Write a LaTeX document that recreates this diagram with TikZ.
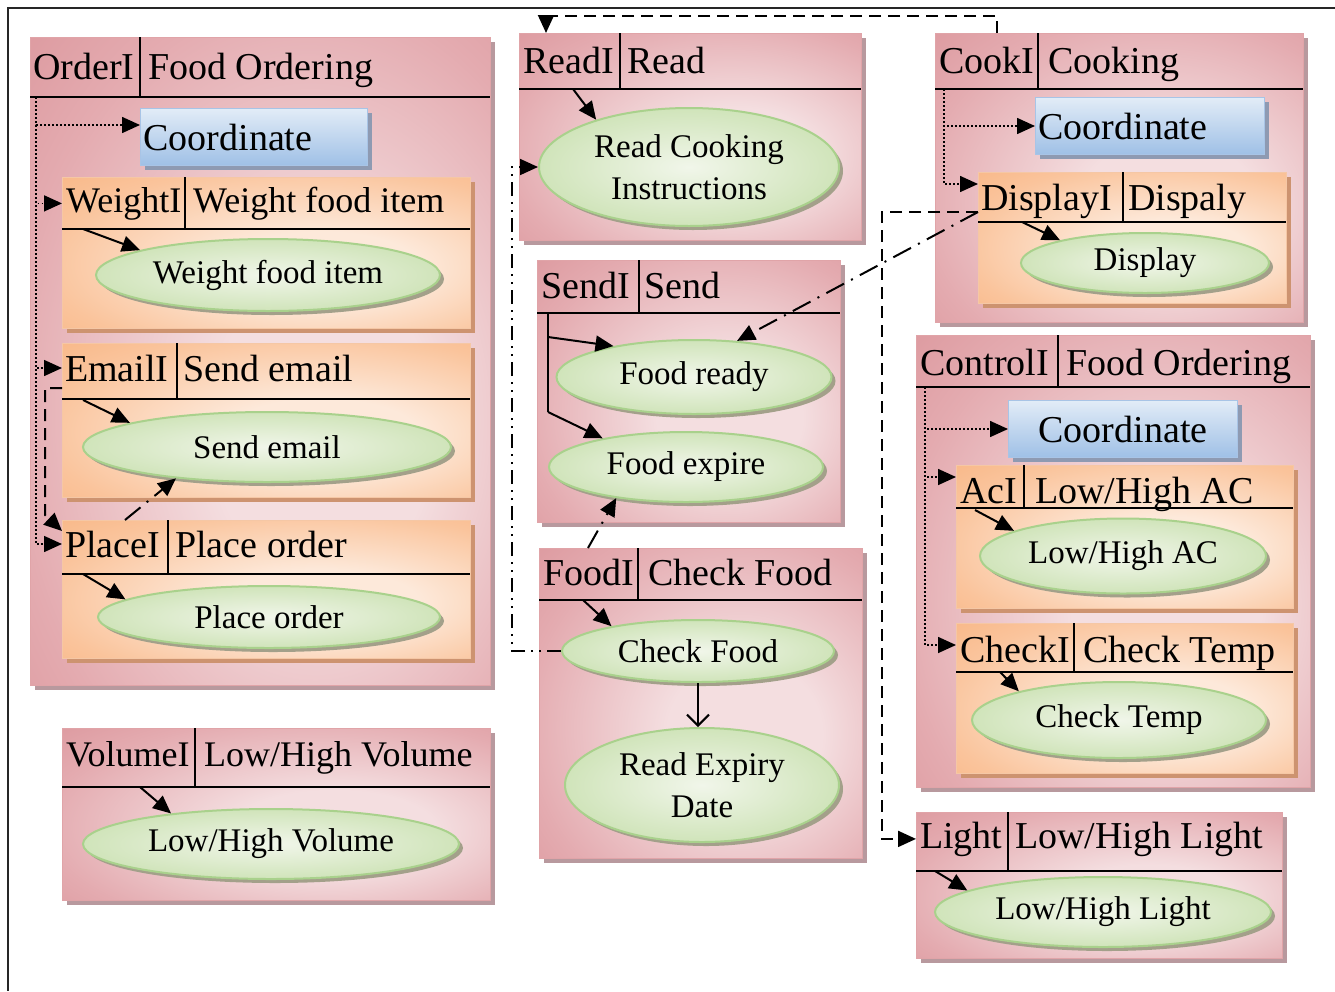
\documentclass[tikz,border=0pt]{standalone}
\usepackage{fontspec}
\setmainfont{Liberation Serif}
\usetikzlibrary{shapes.geometric,shadows,arrows.meta}

\definecolor{pinkD}{HTML}{D68A90}
\definecolor{pinkM}{HTML}{E4ABB0}
\definecolor{pinkL}{HTML}{F4DEE0}
\definecolor{pinkB}{HTML}{E0A4A8}
\definecolor{orD}{HTML}{F7AD76}
\definecolor{orM}{HTML}{FAC49C}
\definecolor{orL}{HTML}{FDE9DA}
\definecolor{orB}{HTML}{F5C7A5}
\definecolor{grD}{HTML}{D0E4BA}
\definecolor{grL}{HTML}{F1F6EA}
\definecolor{grB}{HTML}{A9D18C}
\definecolor{blT}{HTML}{E2ECF7}
\definecolor{blB}{HTML}{9FC0E6}
\definecolor{blE}{HTML}{A8C4E6}
\definecolor{shP}{HTML}{B8999E}
\definecolor{shO}{HTML}{CD9370}
\definecolor{shG}{HTML}{A3A08A}
\definecolor{shB}{HTML}{8E9AB2}

\pgfdeclareradialshading{pinkrad}{\pgfpoint{8bp}{-6bp}}{color(0bp)=(pinkL); color(12bp)=(pinkL); color(32bp)=(pinkM); color(50bp)=(pinkD); color(80bp)=(pinkD)}
\pgfdeclareradialshading{orrad}{\pgfpoint{8bp}{-6bp}}{color(0bp)=(orL); color(12bp)=(orL); color(32bp)=(orM); color(50bp)=(orD); color(80bp)=(orD)}

\tikzset{
  outerbox/.style={shading=pinkrad, draw=pinkB, line width=1pt,
    inner sep=0pt, outer sep=0pt,
    drop shadow={shadow xshift=5pt, shadow yshift=-5pt, fill=shP, opacity=1}},
  innerbox/.style={shading=orrad, draw=orB, line width=1pt,
    inner sep=0pt, outer sep=0pt,
    drop shadow={shadow xshift=5pt, shadow yshift=-5pt, fill=shO, opacity=1}},
  coordbox/.style={top color=blT, bottom color=blB, draw=blE, line width=1pt,
    anchor=north west, minimum height=57pt, inner xsep=3pt, inner ysep=0pt,
    font=\fontsize{38}{40}\selectfont,
    drop shadow={shadow xshift=4pt, shadow yshift=-4pt, fill=shB, opacity=1}},
  uc/.style={ellipse, shade, inner color=grL, outer color=grD, draw=grB, line width=2pt,
    inner sep=0pt, align=center, font=\fontsize{33}{42}\selectfont,
    drop shadow={shadow xshift=4pt, shadow yshift=-4pt, fill=shG, opacity=1}},
  hline/.style={line width=1.8pt, black},
  hd/.style={font=\fontsize{38}{40}\selectfont, inner sep=0pt, anchor=base west},
  hds/.style={font=\fontsize{36}{40}\selectfont, inner sep=0pt, anchor=base west},
  tipa/.style={-{Triangle[length=18pt,width=16pt]}},
  arr/.style={line width=2pt, tipa},
  dotarr/.style={line width=1.6pt, dash pattern=on 1.6pt off 2.4pt, tipa},
  dasharr/.style={line width=2pt, dash pattern=on 12pt off 7pt, tipa},
  dashdot/.style={line width=2pt, dash pattern=on 20pt off 8pt on 2pt off 8pt, tipa},
  dashdotdot/.style={line width=1.8pt, dash pattern=on 14pt off 6pt on 2pt off 6pt on 2pt off 6pt, tipa},
  openarr/.style={line width=2pt, -{Straight Barb[length=11pt,width=22pt,line width=2pt]}},
  frameline/.style={line width=2pt, black!85}
}

\newcommand\ibox[8]{%
  \node[#2, anchor=north west, minimum width=#5pt-#3pt, minimum height=#6pt-#4pt] (#1) at (#3,#4) {};
  \draw[hline] (#3,#7) -- (#5,#7);
  \draw[hline] (#8,#4) -- (#8,#7);
}

\begin{document}
\begin{tikzpicture}[x=1pt,y=-1pt]
\useasboundingbox (0,0) rectangle (1335,991);
\fill[white] (0,0) rectangle (1335,991);

% outer frame
\coordinate (fTL) at (8,8);
\coordinate (fTR) at (1335,8);
\coordinate (fBL) at (8,991);
\draw[frameline] (fTR) -- (fTL) -- (fBL);

% ---------------- outer containers
\ibox{order}{outerbox}{30}{37}{490}{685}{97}{140}
\ibox{volume}{outerbox}{62}{728}{490}{900}{787}{195}
\ibox{read}{outerbox}{519}{33}{861}{240}{89}{620}
\ibox{send}{outerbox}{537}{260}{840}{522}{313}{639}
\ibox{food}{outerbox}{539}{548}{862}{858}{600}{638}
\ibox{cook}{outerbox}{935}{33}{1303}{322}{89}{1038}
\ibox{ctrl}{outerbox}{916}{335}{1310}{787}{387}{1058}
\ibox{light}{outerbox}{916}{812}{1282}{958}{871}{1008}

% ---------------- inner containers
\ibox{weight}{innerbox}{62}{177}{470}{328}{229}{185}
\ibox{email}{innerbox}{62}{343}{470}{497}{399}{177}
\ibox{place}{innerbox}{62}{520}{470}{658}{574}{168}
\ibox{disp}{innerbox}{978}{172}{1286}{303}{222}{1123}
\ibox{ac}{innerbox}{956}{465}{1293}{608}{508}{1024}
\ibox{check}{innerbox}{956}{623}{1293}{773}{672}{1074}

% ---------------- header texts
\node[hd] (orderL) at (33,79) {OrderI};
\node[hd] (orderR) at (148,79) {Food Ordering};
\node[hds] (weightL) at (66,212) {WeightI};
\node[hds] (weightR) at (193,212) {Weight food item};
\node[hd] (emailL) at (65,381) {EmailI};
\node[hd] (emailR) at (183,381) {Send email};
\node[hd] (placeL) at (65,557) {PlaceI};
\node[hd] (placeR) at (175,557) {Place order};
\node[hds] (volumeL) at (66,766) {VolumeI};
\node[hds] (volumeR) at (204,766) {Low/High Volume};
\node[hd] (readL) at (523,73) {ReadI};
\node[hd] (readR) at (627,73) {Read};
\node[hd] (sendL) at (541,298) {SendI};
\node[hd] (sendR) at (644,298) {Send};
\node[hd] (foodL) at (543,585) {FoodI};
\node[hd] (foodR) at (648,585) {Check Food};
\node[hd] (cookL) at (939,73) {CookI};
\node[hd] (cookR) at (1048,73) {Cooking};
\node[hd] (dispL) at (981,210) {DisplayI};
\node[hd] (dispR) at (1128,210) {Dispaly};
\node[hd] (ctrlL) at (920,375) {ControlI};
\node[hd] (ctrlR) at (1066,375) {Food Ordering};
\node[hd] (acL) at (960,503) {AcI};
\node[hd] (acR) at (1035,503) {Low/High AC};
\node[hd] (checkL) at (960,662) {CheckI};
\node[hd] (checkR) at (1083,662) {Check Temp};
\node[hd] (lightL) at (920,848) {Light};
\node[hd] (lightR) at (1015,848) {Low/High Light};

% ---------------- coordinate boxes
\node[coordbox, minimum width=227pt, text width=221pt, align=left] (coordO) at (140,108) {Coordinate};
\node[coordbox, minimum width=229pt, text width=223pt, align=left] (coordC) at (1035,97) {Coordinate};
\node[coordbox, minimum width=229pt, text width=223pt, align=center] (coordT) at (1008,400) {Coordinate};

% ---------------- use cases
\node[uc, minimum width=344pt, minimum height=72pt] (weightE) at (268,275) {Weight food item};
\node[uc, minimum width=368pt, minimum height=70pt] (emailE) at (267,447) {Send email};
\node[uc, minimum width=342pt, minimum height=62pt] (placeE) at (269,617) {Place order};
\node[uc, minimum width=376pt, minimum height=70pt] (volumeE) at (271,844) {Low/High Volume};
\node[uc, minimum width=300pt, minimum height=118pt] (readE) at (689,167) {Read Cooking\\Instructions};
\node[uc, minimum width=275pt, minimum height=74pt] (readyE) at (694,377) {Food ready};
\node[uc, minimum width=274pt, minimum height=70pt] (expE) at (686,467) {Food expire};
\node[uc, minimum width=272pt, minimum height=62pt] (checkE) at (698,651) {Check Food};
\node[uc, minimum width=274pt, minimum height=114pt] (expiryE) at (702,785) {Read Expiry\\Date};
\node[uc, minimum width=248pt, minimum height=60pt] (dispE) at (1145,263) {Display};
\node[uc, minimum width=286pt, minimum height=75pt] (acE) at (1123,556) {Low/High AC};
\node[uc, minimum width=294pt, minimum height=76pt] (tempE) at (1119,720) {Check Temp};
\node[uc, minimum width=336pt, minimum height=70pt] (lightE) at (1103,912) {Low/High Light};

% ---------------- start points on header lines
\coordinate (wS) at (83,229);
\coordinate (eS) at (83,400);
\coordinate (pS) at (83,574);
\coordinate (vS) at (140,787);
\coordinate (rS) at (573,89);
\coordinate (fS) at (583,600);
\coordinate (dS) at (1022,222);
\coordinate (aS) at (975,510);
\coordinate (cS) at (1000,672);
\coordinate (lS) at (935,871);
\coordinate (sA) at (548,313);
\coordinate (sB) at (548,337);
\coordinate (sC) at (548,412);

% ---------------- solid arrows to use cases
\draw[arr] (wS) -- (weightE.169);
\draw[arr] (eS) -- (emailE.170);
\draw[arr] (pS) -- (placeE.173);
\draw[arr] (vS) -- (volumeE.163);
\draw[arr] (rS) -- (readE.153);
\draw[arr] (fS) -- (checkE.164);
\draw[arr] (dS) -- (dispE.165);
\draw[arr] (aS) -- (acE.167);
\draw[arr] (cS) -- (tempE.164);
\draw[arr] (lS) -- (lightE.171);
\draw[line width=2pt] (sA) -- (sC);
\draw[arr] (sB) -- (readyE.159);
\draw[arr] (sC) -- (expE.161);
\draw[openarr] (checkE.south) -- (checkE.south |- expiryE.north);

% ---------------- dotted coordination lines
\coordinate (oD) at (36,97);
\draw[dotarr] (oD) |- ([yshift=12pt]coordO.west);
\draw[dotarr] (oD) |- (weight.west |- weightL.west);
\draw[dotarr] (oD) |- (email.west |- emailL.west);
\draw[dotarr] (oD) |- (place.west |- placeL.west);

\coordinate (cD) at (944,89);
\draw[dotarr] (cD) |- (coordC.west);
\draw[dotarr] (cD) |- ([yshift=-12pt]disp.north west);

\coordinate (tD) at (925,387);
\draw[dotarr] (tD) |- (coordT.west);
\draw[dotarr] (tD) |- ([yshift=-12pt]ac.north west);
\draw[dotarr] (tD) |- ([yshift=-22pt]check.north west);

% ---------------- dashed / dash-dot relations
% Email -> Place
\coordinate (emS) at (62,388);
\coordinate (emX) at (45,515);
\draw[dasharr] (emS) -- (emS -| emX) -- (emX) -- ([yshift=-11pt]place.north west);
% Place -> Send email
\coordinate (plS) at ([xshift=63pt]place.north west);
\draw[dashdot] (plS) -- (emailE.199);
% Food -> Food expire
\coordinate (foS) at ([xshift=49pt]food.north west);
\draw[dashdot] (foS) -- (expE.204);
% Display -> Food ready
\coordinate (diS) at ([yshift=-40pt]disp.north west);
\draw[dashdot] (diS) -- (readyE.40);
% Display -> Light
\coordinate (dlX) at (882,0);
\draw[dasharr] (diS) -- (diS -| dlX) |- (light.west |- lightL.west);
% Cook -> Read
\coordinate (ckS) at ([xshift=62pt]cook.north west);
\coordinate (rdT) at ([xshift=27pt]read.north west);
\coordinate (topY) at (0,16);
\draw[dasharr] (ckS) -- (ckS |- topY) -- (rdT |- topY) -- (rdT);
% Check Food -> Read Cooking Instructions
\coordinate (ddX) at (512,0);
\draw[dashdotdot] (checkE.west) -- (checkE.west -| ddX) |- (readE.west);

\end{tikzpicture}
\end{document}
